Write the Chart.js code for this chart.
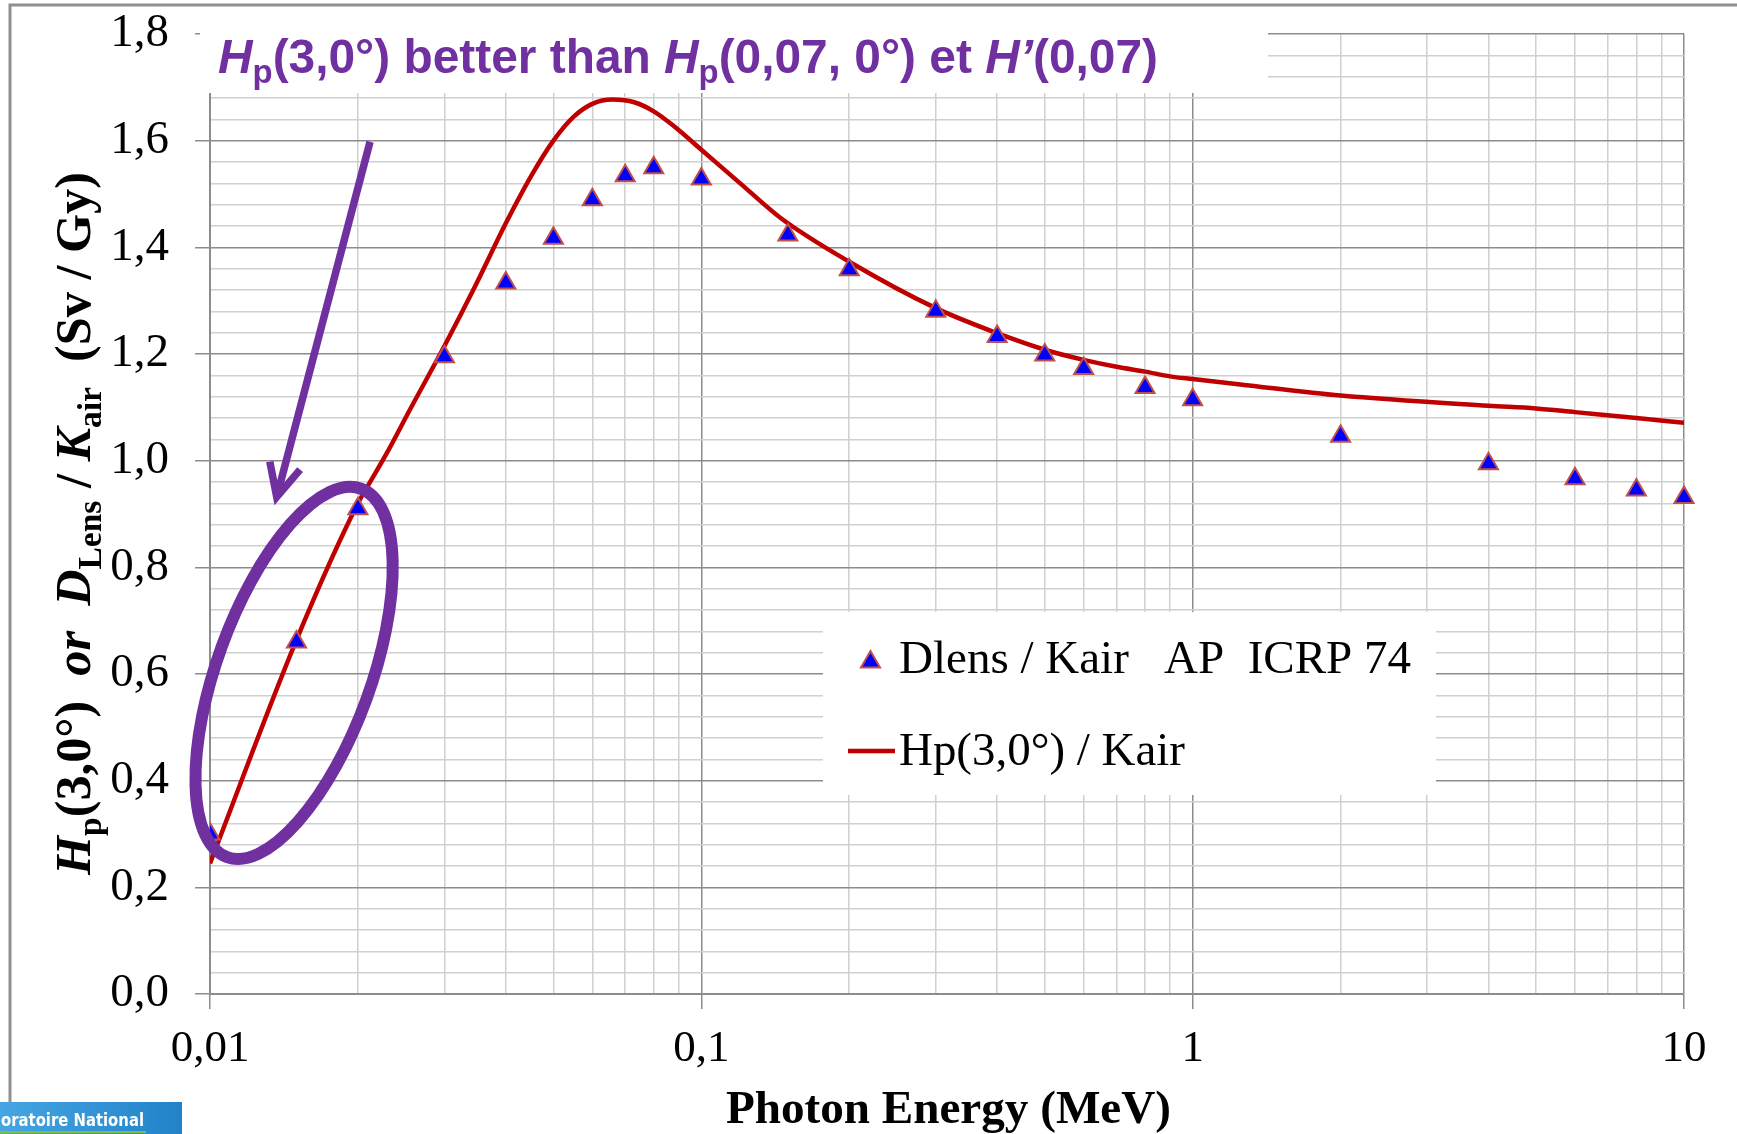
<!DOCTYPE html>
<html>
<head>
<meta charset="utf-8">
<script src="https://cdn.jsdelivr.net/npm/chart.js@4.4.0/dist/chart.umd.min.js"></script>
<style>
  html, body { margin: 0; padding: 0; background: #fff; }
  #wrap { width: 1737px; height: 1134px; }
</style>
</head>
<body>
<div id="wrap"><canvas id="chart" width="1737" height="1134"></canvas></div>
<script>
// Dlens / Kair points (AP, ICRP 74)
const energies = [0.01, 0.015, 0.02, 0.03, 0.04, 0.05, 0.06, 0.07, 0.08, 0.1, 0.15, 0.2, 0.3, 0.4, 0.5, 0.6, 0.8, 1, 2, 4, 6, 8, 10];
const dlensKair = [0.30, 0.66, 0.91, 1.195, 1.333, 1.417, 1.489, 1.534, 1.549, 1.528, 1.423, 1.358, 1.280, 1.233, 1.198, 1.173, 1.137, 1.114, 1.046, 0.994, 0.966, 0.945, 0.931];

// Hp(3,0°) / Kair curve
const curveEnergies = [0.01, 0.015, 0.02, 0.0209, 0.0229, 0.0255, 0.03, 0.0346, 0.04, 0.045, 0.05, 0.055, 0.06, 0.066, 0.073, 0.08, 0.088, 0.1, 0.12, 0.145, 0.2, 0.3, 0.4, 0.5, 0.6, 0.7, 0.8, 0.9, 1, 1.25, 2, 4, 5, 6, 8, 10];
const hp3Kair = [0.245, 0.664, 0.92, 0.951, 1.014, 1.095, 1.215, 1.326, 1.445, 1.533, 1.600, 1.645, 1.669, 1.677, 1.672, 1.655, 1.627, 1.583, 1.52, 1.455, 1.373, 1.286, 1.239, 1.208, 1.189, 1.176, 1.167, 1.158, 1.153, 1.143, 1.122, 1.103, 1.098, 1.091, 1.080, 1.071];

const xTickLabels = ['0,01', '0,1', '1', '10'];
const yTickLabels = ['0,0', '0,2', '0,4', '0,6', '0,8', '1,0', '1,2', '1,4', '1,6', '1,8'];

const purple = '#7030A0';
const isDecade = v => Math.abs(Math.log10(v) - Math.round(Math.log10(v))) < 1e-9;
const isMajorY = v => Math.abs(v / 0.2 - Math.round(v / 0.2)) < 1e-6;

// draw a row of text pieces with mixed fonts, squeezed to a given width
function drawRuns(ctx, runs, x, y, targetW) {
  let w = 0;
  runs.forEach(r => { ctx.font = r.font; r.w = ctx.measureText(r.t).width; w += r.w; });
  const k = targetW / w;
  ctx.save();
  ctx.translate(x, y);
  ctx.scale(k, 1);
  ctx.textAlign = 'left';
  ctx.textBaseline = 'alphabetic';
  let cx = 0;
  runs.forEach(r => { ctx.font = r.font; ctx.fillText(r.t, cx, r.dy || 0); cx += r.w; });
  ctx.restore();
}

const decor = {
  id: 'decor',
  afterDraw(chart) {
    const { ctx, scales: { x, y } } = chart;
    ctx.save();

    // white box behind the headline
    ctx.fillStyle = '#fff';
    ctx.fillRect(200, 10, 1068, 83);

    // headline
    ctx.fillStyle = purple;
    const sb = 'bold 48px "Liberation Sans"', si = 'italic bold 48px "Liberation Sans"', ss = 'bold 33px "Liberation Sans"';
    drawRuns(ctx, [
      { t: 'H', font: si }, { t: 'p', font: ss, dy: 10 }, { t: '(3,0°) better than ', font: sb },
      { t: 'H', font: si }, { t: 'p', font: ss, dy: 10 }, { t: '(0,07, 0°) et ', font: sb },
      { t: 'H’', font: si }, { t: '(0,07)', font: sb }
    ], 218, 73, 940);

    // y axis title
    ctx.fillStyle = '#000';
    const tb = 'bold 51px "Liberation Serif"', ti = 'italic bold 51px "Liberation Serif"', ts = 'bold 34px "Liberation Serif"';
    ctx.save();
    ctx.translate(90, 875);
    ctx.rotate(-Math.PI / 2);
    drawRuns(ctx, [
      { t: 'H', font: ti }, { t: 'p', font: ts, dy: 11 }, { t: '(3,0°)  ', font: tb },
      { t: 'or', font: ti }, { t: '  ', font: tb },
      { t: 'D', font: ti }, { t: 'Lens', font: ts, dy: 11 }, { t: ' / ', font: tb },
      { t: 'K', font: ti }, { t: 'air', font: ts, dy: 11 }, { t: '  (Sv / Gy)', font: tb }
    ], 0, 0, 703);
    ctx.restore();

    // x axis title
    drawRuns(ctx, [{ t: 'Photon Energy (MeV)', font: 'bold 47px "Liberation Serif"' }], 726, 1123, 445);

    // legend
    ctx.fillStyle = '#fff';
    ctx.fillRect(823, 612, 613, 183);
    ctx.beginPath();
    const r = 11, mx = 870.5, my = 662;
    for (let i = 0; i < 3; i++) {
      const a = i * 2 * Math.PI / 3;
      const px = mx + Math.sin(a) * r, py = my - Math.cos(a) * r;
      i ? ctx.lineTo(px, py) : ctx.moveTo(px, py);
    }
    ctx.closePath();
    ctx.fillStyle = '#0000FF';
    ctx.fill();
    ctx.lineWidth = 2;
    ctx.strokeStyle = '#C0504D';
    ctx.stroke();
    ctx.strokeStyle = '#C00000';
    ctx.lineWidth = 4.5;
    ctx.beginPath();
    ctx.moveTo(848, 751);
    ctx.lineTo(895, 751);
    ctx.stroke();
    ctx.fillStyle = '#000';
    drawRuns(ctx, [{ t: chart.data.datasets[0].label, font: '46px "Liberation Serif"' }], 899, 673, 512);
    drawRuns(ctx, [{ t: chart.data.datasets[1].label, font: '46px "Liberation Serif"' }], 899, 765, 286);

    // purple ellipse round the low-energy points
    ctx.strokeStyle = purple;
    ctx.lineWidth = 12;
    ctx.beginPath();
    ctx.ellipse(x.getPixelForValue(0.01483), y.getPixelForValue(0.602), 196, 77, -70 * Math.PI / 180, 0, 2 * Math.PI);
    ctx.stroke();

    // arrow
    const x0 = x.getPixelForValue(0.02117), y0 = y.getPixelForValue(1.598);
    const x1 = x.getPixelForValue(0.01367), y1 = y.getPixelForValue(0.932);
    const ang = Math.atan2(y0 - y1, x0 - x1);
    ctx.lineWidth = 7.5;
    ctx.lineJoin = 'miter';
    ctx.beginPath();
    ctx.moveTo(x0, y0);
    ctx.lineTo(x1, y1);
    ctx.stroke();
    ctx.beginPath();
    ctx.moveTo(x1 + 36 * Math.cos(ang - 0.45), y1 + 36 * Math.sin(ang - 0.45));
    ctx.lineTo(x1, y1);
    ctx.lineTo(x1 + 36 * Math.cos(ang + 0.45), y1 + 36 * Math.sin(ang + 0.45));
    ctx.stroke();

    // slide frame
    ctx.strokeStyle = '#8f8f8f';
    ctx.lineWidth = 3;
    ctx.beginPath();
    ctx.moveTo(1737, 5);
    ctx.lineTo(10, 5);
    ctx.lineTo(10, 1102);
    ctx.stroke();

    // logo strip
    const g = ctx.createLinearGradient(0, 0, 182, 0);
    g.addColorStop(0, '#45a6e2');
    g.addColorStop(1, '#2282c9');
    ctx.fillStyle = g;
    ctx.fillRect(0, 1102, 182, 32);
    ctx.fillStyle = '#7ac143';
    ctx.fillRect(0, 1131, 146, 2);
    ctx.fillStyle = '#fff';
    drawRuns(ctx, [{ t: 'oratoire National', font: 'bold 17px "DejaVu Sans"' }], 1, 1126, 143);

    ctx.restore();
  }
};

new Chart(document.getElementById('chart'), {
  type: 'scatter',
  data: {
    datasets: [
      {
        label: 'Dlens / Kair   AP  ICRP 74',
        data: energies.map((e, i) => ({ x: e, y: dlensKair[i] })),
        pointStyle: 'triangle',
        pointRadius: 11,
        backgroundColor: '#0000FF',
        borderColor: '#C0504D',
        borderWidth: 2,
        order: 0,
        clip: { left: 0, top: false, right: false, bottom: false }
      },
      {
        label: 'Hp(3,0°) / Kair',
        data: curveEnergies.map((e, i) => ({ x: e, y: hp3Kair[i] })),
        showLine: true,
        borderColor: '#C00000',
        borderWidth: 4.5,
        pointRadius: 0,
        cubicInterpolationMode: 'monotone',
        order: 1,
        clip: 0
      }
    ]
  },
  options: {
    responsive: false,
    animation: false,
    layout: { padding: { top: 34, right: 53, left: 0, bottom: 0 } },
    plugins: { legend: { display: false }, tooltip: { enabled: false } },
    scales: {
      x: {
        type: 'logarithmic',
        min: 0.01,
        max: 10,
        afterFit: s => {
          s.height = 140;
          s.paddingLeft = 0;
          s.paddingRight = 0;
        },
        afterBuildTicks: s => {
          const t = [];
          for (let e = -2; e <= 0; e++) {
            for (let m = 1; m <= 9; m++) t.push({ value: parseFloat((m * Math.pow(10, e)).toPrecision(6)) });
          }
          t.push({ value: 10 });
          s.ticks = t;
        },
        grid: {
          color: c => isDecade(c.tick.value) ? '#8c8c8c' : '#d0d0d0',
          lineWidth: 1.5,
          tickLength: 15,
          tickColor: c => isDecade(c.tick.value) ? '#8c8c8c' : 'rgba(0,0,0,0)'
        },
        border: { color: '#8c8c8c', width: 2 },
        ticks: {
          autoSkip: false,
          maxRotation: 0,
          padding: 13,
          color: '#000',
          font: { family: 'Liberation Serif', size: 45 },
          callback: v => isDecade(v) ? xTickLabels[Math.round(Math.log10(v)) + 2] : ''
        }
      },
      y: {
        min: 0,
        max: 1.8,
        afterFit: s => {
          s.width = 210;
          s.paddingTop = 0;
          s.paddingBottom = 0;
        },
        grid: {
          color: c => isMajorY(c.tick.value) ? '#8c8c8c' : '#d0d0d0',
          lineWidth: 1.5,
          tickLength: 15,
          tickColor: c => isMajorY(c.tick.value) ? '#8c8c8c' : 'rgba(0,0,0,0)'
        },
        border: { color: '#8c8c8c', width: 2 },
        ticks: {
          stepSize: 0.04,
          autoSkip: false,
          padding: 26,
          color: '#000',
          font: { family: 'Liberation Serif', size: 47 },
          callback: v => isMajorY(v) ? yTickLabels[Math.round(v / 0.2)] : ''
        }
      }
    }
  },
  plugins: [decor]
});
</script>
</body>
</html>
